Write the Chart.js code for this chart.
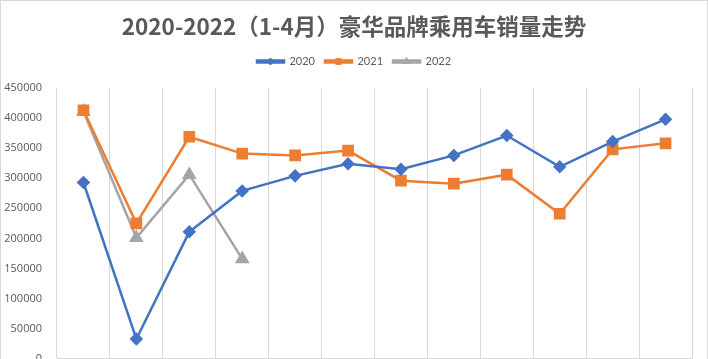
<!DOCTYPE html>
<html>
<head>
<meta charset="utf-8">
<script src="https://cdn.jsdelivr.net/npm/chart.js@4/dist/chart.umd.min.js"></script>
<style>
  html, body { margin: 0; padding: 0; background: #fff; overflow: hidden; }
  #wrap { width: 708px; height: 390px; position: relative; }
</style>
</head>
<body>
<div id="wrap"><canvas id="grafico"></canvas></div>
<script>
// dados
const meses = ["1月", "2月", "3月", "4月", "5月", "6月", "7月", "8月", "9月", "10月", "11月", "12月"];
const vendas2020 = [293000, 33000, 211000, 279000, 304000, 324000, 315000, 338000, 371000, 319000, 361000, 398000];
const vendas2021 = [413000, 225000, 369000, 341000, 338000, 346000, 296000, 291000, 306000, 241000, 348000, 358000];
const vendas2022 = [411000, 201000, 306000, 166000];
const ticksY = [0, 50000, 100000, 150000, 200000, 250000, 300000, 350000, 400000, 450000];

const cinzaTexto = "#595959";
const cinzaGrade = "#d9d9d9";

// fundo branco + borda do quadro
const fundo = {
  id: "fundo",
  beforeDraw(chart) {
    const { ctx, width, height } = chart;
    ctx.save();
    ctx.fillStyle = "#fff";
    ctx.fillRect(0, 0, width, height);
    ctx.strokeStyle = cinzaGrade;
    ctx.lineWidth = 1;
    ctx.strokeRect(0.5, 0.5, width - 1, height - 1);
    ctx.restore();
  },
};

// espaco extra abaixo da legenda
const espacoLegenda = {
  id: "espacoLegenda",
  afterInit(chart) {
    const legend = chart.legend;
    if (!legend) return;
    const fitOriginal = legend.fit;
    legend.fit = function () {
      fitOriginal.call(this);
      this.height += 11;
    };
  },
};

// marcador no meio da linha da legenda
const marcadorLegenda = {
  id: "marcadorLegenda",
  afterDraw(chart) {
    const legend = chart.legend;
    if (!legend || !legend.legendHitBoxes) return;
    const ctx = chart.ctx;
    const boxW = legend.options.labels.boxWidth;
    legend.legendHitBoxes.forEach((box, i) => {
      const ds = chart.data.datasets[i];
      const x = box.left + boxW / 2;
      const y = box.top + box.height / 2;
      ctx.save();
      ctx.fillStyle = ds.borderColor;
      ctx.strokeStyle = ds.borderColor;
      ctx.lineWidth = 1;
      Chart.helpers.drawPoint(ctx, {
        pointStyle: ds.pointStyle,
        radius: ds.pointStyle === "rectRot" ? 3.5 : 4,
        rotation: 0,
        borderWidth: 1,
      }, x, y);
      ctx.restore();
    });
  },
};

const ctx = document.getElementById("grafico");

function serie(label, data, cor, estilo, raio) {
  return {
    label,
    data,
    borderColor: cor,
    backgroundColor: cor,
    pointBackgroundColor: cor,
    pointBorderColor: cor,
    pointStyle: estilo,
    pointRadius: raio,
    pointHoverRadius: raio,
    borderWidth: 2.5,
    tension: 0,
    fill: false,
    yAxisID: "y",
  };
}

new Chart(ctx, {
  type: "line",
  data: {
    labels: meses,
    datasets: [
      serie("2020", vendas2020, "#4472C4", "rectRot", 5),
      serie("2021", vendas2021, "#ED7D31", "rect", 6.5),
      serie("2022", vendas2022, "#A5A5A5", "triangle", 6),
    ],
  },
  options: {
    responsive: true,
    maintainAspectRatio: false,
    animation: false,
    layout: { padding: { left: 0, right: 0, top: 0, bottom: 6 } },
    plugins: {
      title: {
        display: true,
        text: "2020-2022（1-4月）豪华品牌乘用车销量走势",
        color: cinzaTexto,
        font: { family: "'Noto Sans CJK SC', 'Noto Sans', sans-serif", size: 22.5, weight: "bold" },
        padding: { top: 13, bottom: 6 },
      },
      legend: {
        position: "top",
        labels: {
          color: cinzaTexto,
          font: { family: "Lato, 'Open Sans', sans-serif", size: 11 },
          boxWidth: 27,
          boxHeight: 2,
          padding: 10,
        },
      },
      tooltip: { enabled: false },
    },
    scales: {
      x: {
        offset: true,
        grid: { display: true, offset: true, color: cinzaGrade, drawTicks: false },
        border: { display: true, color: cinzaGrade },
        ticks: {
          color: cinzaTexto,
          font: { family: "'Open Sans', 'Noto Sans', sans-serif", size: 11 },
          padding: 6,
        },
      },
      y: {
        min: 0,
        max: 450000,
        afterBuildTicks(scale) {
          scale.ticks = ticksY.map((v) => ({ value: v }));
        },
        afterFit(scale) {
          scale.width = 57;
        },
        grid: { display: false },
        border: { display: false },
        ticks: {
          color: cinzaTexto,
          font: { family: "'Open Sans', 'Noto Sans', sans-serif", size: 11 },
          padding: 7,
          callback: (v) => String(v),
        },
      },
      // eixo vazio so para reservar a margem direita
      margem: {
        position: "right",
        display: true,
        min: 0,
        max: 450000,
        afterFit(scale) {
          scale.width = 16;
        },
        grid: { display: false },
        border: { display: false },
        ticks: { display: false },
      },
    },
  },
  plugins: [fundo, espacoLegenda, marcadorLegenda],
});
</script>
</body>
</html>
